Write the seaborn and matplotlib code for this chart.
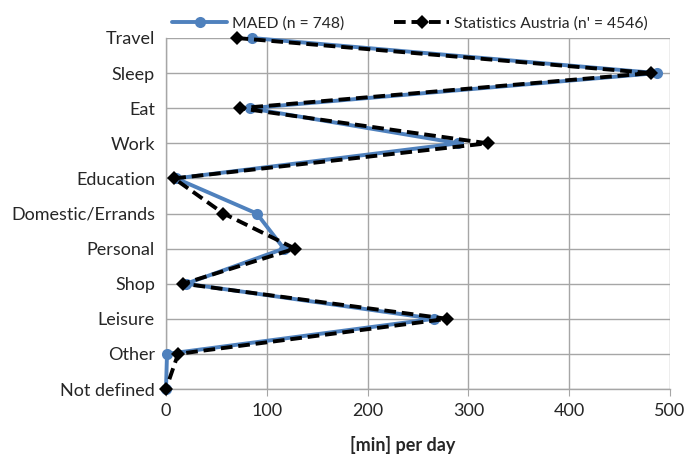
import pandas as pd
import matplotlib
matplotlib.use('Agg')
import matplotlib.pyplot as plt
import seaborn as sns

# Activity categories (top to bottom) and minutes per day
categories = ['Travel', 'Sleep', 'Eat', 'Work', 'Education', 'Domestic/Errands',
              'Personal', 'Shop', 'Leisure', 'Other', 'Not defined']
maed_minutes = [85, 487, 83, 290, 10, 90, 117, 20, 266, 1, 0]
austria_minutes = [70, 481, 73, 319, 8, 57, 128, 17, 279, 12, 0]
x_ticks = [0, 100, 200, 300, 400, 500]

maed_label = 'MAED (n = 748)'
austria_label = "Statistics Austria (n' = 4546)"

df = pd.DataFrame({
    'category': categories * 2,
    'pos': list(range(len(categories))) * 2,
    'minutes': maed_minutes + austria_minutes,
    'source': [maed_label] * len(categories) + [austria_label] * len(categories),
})

sns.set_style('white')
plt.rcParams['font.family'] = ['Lato', 'DejaVu Sans']

fig = plt.figure(figsize=(6.87, 4.59), dpi=100)
ax = fig.add_axes([166 / 687, 1 - 389 / 459, 504 / 687, 351 / 459])

grid_col = '#a6a6a6'
blue = '#4f81bd'

sns.lineplot(data=df[df['source'] == maed_label], x='minutes', y='pos',
             estimator=None, sort=False, ax=ax, color=blue, linewidth=2.8,
             marker='o', markersize=8, markeredgewidth=0, label=maed_label,
             clip_on=False, zorder=3)
sns.lineplot(data=df[df['source'] == austria_label], x='minutes', y='pos',
             estimator=None, sort=False, ax=ax, color='black', linewidth=2.8,
             linestyle=(0, (3, 1.5)), marker='D', markersize=7,
             markeredgewidth=0, label=austria_label, clip_on=False, zorder=4)

ax.set_xlim(0, 500)
ax.set_ylim(len(categories) - 1, 0)
ax.set_xticks(x_ticks)
ax.set_yticks(range(len(categories)))
ax.set_yticklabels(categories)
ax.grid(True, color=grid_col, linewidth=1)
ax.set_axisbelow(True)

for s in ['top', 'right']:
    ax.spines[s].set_visible(False)
for s in ['left', 'bottom']:
    ax.spines[s].set_color(grid_col)
    ax.spines[s].set_linewidth(1)

ax.tick_params(axis='x', length=5, color=grid_col, labelsize=13, pad=5, direction='out', bottom=True)
ax.tick_params(axis='y', length=0, labelsize=13, pad=8)

ax.set_ylabel('')
ax.set_xlabel('[min] per day', fontsize=13, fontweight='bold')
ax.xaxis.set_label_coords((403 - 166) / 504, -0.135)

ax.legend(loc='lower left', bbox_to_anchor=(0.012, 1.02), ncol=2, frameon=False,
          fontsize=11.3, handlelength=3.5, columnspacing=3.2, handletextpad=0.3,
          borderaxespad=0, borderpad=0)

plt.savefig('out.png', dpi=100)
